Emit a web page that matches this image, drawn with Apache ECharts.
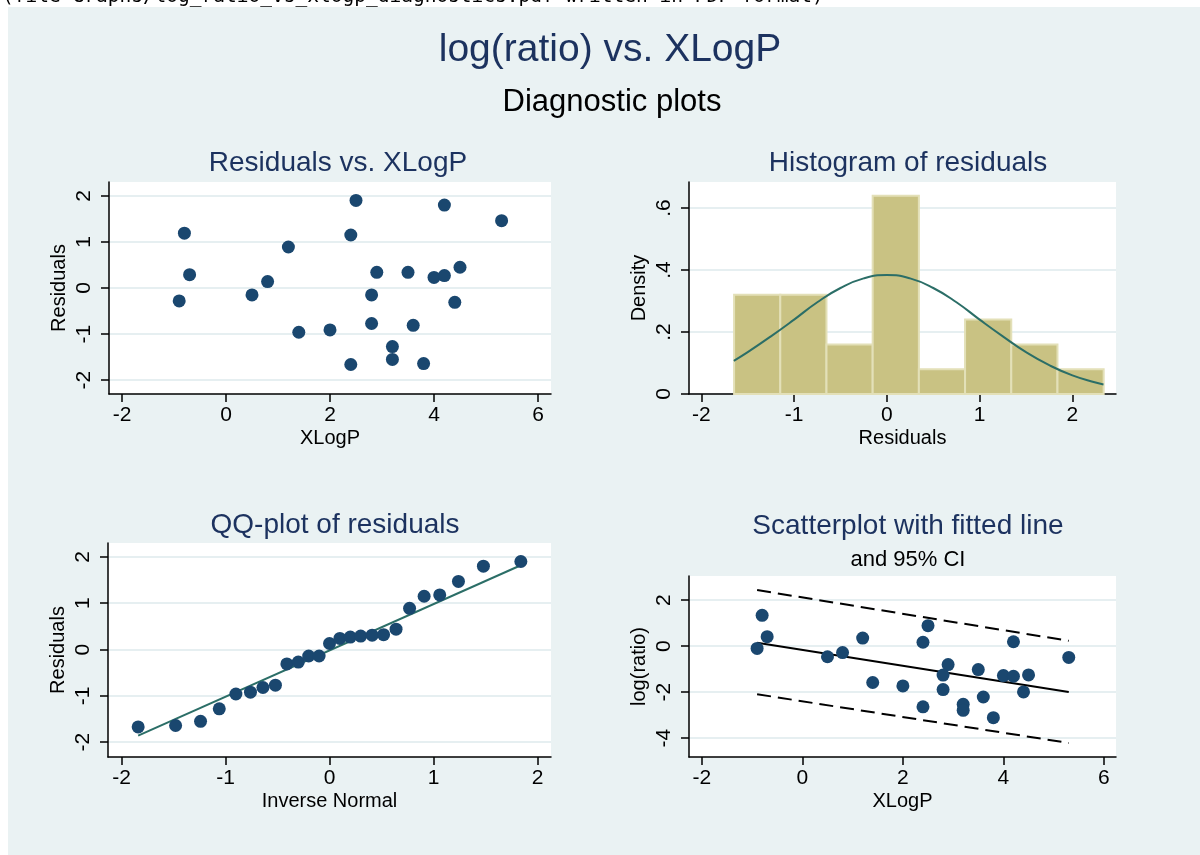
<!DOCTYPE html>
<html>
<head>
<meta charset="utf-8">
<script src="https://cdn.jsdelivr.net/npm/echarts@6/dist/echarts.min.js"></script>
<style>
html,body{margin:0;padding:0;background:#fff;}
#chart{width:1200px;height:855px;}
</style>
</head>
<body>
<div id="chart"></div>
<script>
// ---- Data ----
const xlogp = [-0.8,-0.7,-0.9,0.5,0.8,1.2,1.4,2.0,2.4,2.5,2.4,2.9,2.8,2.8,3.2,3.2,3.5,3.6,3.8,4.0,4.2,4.2,4.5,4.4,5.3];
const residuals = [1.19,0.29,-0.28,-0.15,0.14,0.89,-0.96,-0.91,1.15,1.90,-1.66,0.34,-0.15,-0.77,-1.27,-1.55,0.34,-0.81,-1.64,0.23,0.27,1.80,0.45,-0.31,1.46];
const logRatio = [1.34,0.41,-0.10,-0.46,-0.28,0.35,-1.58,-1.73,0.17,0.89,-2.64,-0.80,-1.26,-1.89,-2.53,-2.79,-1.02,-2.21,-3.11,-1.28,-1.31,0.19,-1.25,-1.99,-0.49];

const histEdgesLo = [-1.647,-1.149,-0.651,-0.153,0.345,0.843,1.341,1.839];
const histEdgesHi = [-1.149,-0.651,-0.153,0.345,0.843,1.341,1.839,2.337];
const histDensity = [0.32,0.32,0.16,0.64,0.08,0.24,0.16,0.08];

const normX = [-1.65,-1.5,-1.25,-1.0,-0.75,-0.5,-0.25,0,0.25,0.5,0.75,1.0,1.25,1.5,1.75,2.0,2.25,2.335];
const normY = [0.107,0.135,0.186,0.240,0.296,0.342,0.373,0.384,0.373,0.342,0.296,0.240,0.186,0.135,0.093,0.060,0.037,0.031];

const qqX = [-1.84,-1.48,-1.24,-1.06,-0.90,-0.76,-0.64,-0.52,-0.41,-0.30,-0.20,-0.10,0,0.10,0.20,0.30,0.41,0.52,0.64,0.77,0.91,1.06,1.24,1.48,1.84];
const qqY = [-1.67,-1.64,-1.55,-1.28,-0.96,-0.92,-0.82,-0.77,-0.31,-0.27,-0.14,-0.14,0.13,0.24,0.27,0.29,0.31,0.32,0.44,0.89,1.15,1.18,1.47,1.80,1.90];
const qqLineX = [-1.84,1.84];
const qqLineY = [-1.86,1.82];

const fitX = [-0.9,5.3];
const fitY = [0.145,-1.99];
const ciUpper = [2.44,0.23];
const ciLower = [-2.09,-4.21];

const ticksXLogP = [-2,0,2,4,6];
const ticksResid = [-2,-1,0,1,2];
const ticksHistX = [-2,-1,0,1,2];
const ticksDensity = [0,0.2,0.4,0.6];
const ticksQQX = [-2,-1,0,1,2];
const ticksLogRatio = [-4,-2,0,2];

// ---- Styles ----
const FONT = 'Liberation Sans, Arial, sans-serif';
const NAVY = '#1A476F';
const TITLE = '#1C325F';
const TEAL = '#2B6E67';
const GRIDC = '#E6EFF1';

function zip(a,b){return a.map((v,i)=>[v,b[i]]);}
function stataFmt(v){ if (v===0) return '0'; let s=String(v); return s.replace(/^0\./,'.').replace(/^-0\./,'-.'); }

function xAx(grid, min, max, ticks, name){
  return {
    type:'value', gridIndex:grid, min:min, max:max,
    name:name, nameLocation:'middle', nameGap:34,
    nameTextStyle:{fontSize:20, color:'#000', fontFamily:FONT},
    axisLine:{show:true, onZero:false, lineStyle:{color:'#000', width:1.5}},
    axisTick:{show:true, length:8, customValues:ticks, lineStyle:{color:'#000', width:1.5}},
    axisLabel:{customValues:ticks, fontSize:21, color:'#000', fontFamily:FONT, margin:11, formatter:stataFmt},
    splitLine:{show:false}
  };
}
function yAx(grid, min, max, ticks, name, gap){
  return {
    type:'value', gridIndex:grid, min:min, max:max,
    name:name, nameLocation:'middle', nameGap:gap||40, nameRotate:90,
    nameTextStyle:{fontSize:20, color:'#000', fontFamily:FONT},
    axisLine:{show:true, onZero:false, lineStyle:{color:'#000', width:1.5}},
    axisTick:{show:true, length:8, customValues:ticks, lineStyle:{color:'#000', width:1.5}},
    axisLabel:{customValues:ticks, rotate:90, fontSize:21, color:'#000', fontFamily:FONT, margin:14, formatter:stataFmt},
    splitLine:{show:true, lineStyle:{color:GRIDC, width:2}}
  };
}

const chart = echarts.init(document.getElementById('chart'), null, {renderer:'canvas'});
const gridBase = {show:true, backgroundColor:'#ffffff', borderWidth:0, containLabel:false};
const dot = {symbolSize:13, itemStyle:{color:NAVY, opacity:1}};

const option = {
  animation:false,
  backgroundColor:'#EAF2F3',
  title:[
    {text:'log(ratio) vs. XLogP', left:605, top:26, textAlign:'center', textStyle:{fontSize:39, fontWeight:'normal', color:TITLE, fontFamily:FONT}},
    {text:'Diagnostic plots', left:607, top:82, textAlign:'center', textStyle:{fontSize:31, fontWeight:'normal', color:'#000', fontFamily:FONT}},
    {text:'Residuals vs. XLogP', left:333, top:144, textAlign:'center', textStyle:{fontSize:28, fontWeight:'normal', color:TITLE, fontFamily:FONT}},
    {text:'Histogram of residuals', left:903, top:144, textAlign:'center', textStyle:{fontSize:28, fontWeight:'normal', color:TITLE, fontFamily:FONT}},
    {text:'QQ-plot of residuals', left:330, top:506, textAlign:'center', textStyle:{fontSize:28, fontWeight:'normal', color:TITLE, fontFamily:FONT}},
    {text:'Scatterplot with fitted line', left:903, top:507, textAlign:'center', textStyle:{fontSize:28, fontWeight:'normal', color:TITLE, fontFamily:FONT}},
    {text:'and 95% CI', left:903, top:544, textAlign:'center', textStyle:{fontSize:22, fontWeight:'normal', color:'#000', fontFamily:FONT}}
  ],
  graphic:[
    {type:'rect', left:0, top:0, shape:{width:1200, height:7}, style:{fill:'#ffffff'}, z:100},
    {type:'rect', left:0, top:0, shape:{width:8, height:855}, style:{fill:'#ffffff'}, z:100},
    {type:'text', x:2, y:7, z:101, style:{text:'(file Graphs/log_ratio_vs_xlogp_diagnostics.pdf written in PDF format)', font:'19.5px "DejaVu Sans Mono", monospace', fill:'#000', verticalAlign:'bottom', align:'left'}}
  ],
  grid:[
    Object.assign({left:109, top:182, width:442, height:212}, gridBase),
    Object.assign({left:689, top:182, width:427, height:212}, gridBase),
    Object.assign({left:108, top:543, width:443, height:214}, gridBase),
    Object.assign({left:689, top:576, width:427, height:181}, gridBase)
  ],
  xAxis:[
    xAx(0, -2.25, 6.25, ticksXLogP, 'XLogP'),
    xAx(1, -2.133, 2.47, ticksHistX, 'Residuals'),
    xAx(2, -2.13, 2.13, ticksQQX, 'Inverse Normal'),
    xAx(3, -2.255, 6.24, ticksXLogP, 'XLogP')
  ],
  yAxis:[
    yAx(0, -2.3, 2.3, ticksResid, 'Residuals', 40),
    yAx(1, 0, 0.684, ticksDensity, 'Density', 40),
    yAx(2, -2.32, 2.30, ticksResid, 'Residuals', 40),
    yAx(3, -4.82, 3.05, ticksLogRatio, 'log(ratio)', 40)
  ],
  series:[
    Object.assign({type:'scatter', xAxisIndex:0, yAxisIndex:0, data:zip(xlogp, residuals)}, dot),
    {type:'custom', xAxisIndex:1, yAxisIndex:1,
     data:histEdgesLo.map((lo,i)=>[lo, histEdgesHi[i], histDensity[i]]),
     encode:{x:[0,1], y:2},
     renderItem:function(params, api){
       const p0 = api.coord([api.value(0), api.value(2)]);
       const p1 = api.coord([api.value(1), 0]);
       return {type:'rect', shape:{x:p0[0], y:p0[1], width:p1[0]-p0[0], height:p1[1]-p0[1]},
               style:{fill:'#C9C283', stroke:'#E3E0B8', lineWidth:2}};
     }},
    {type:'line', xAxisIndex:1, yAxisIndex:1, data:zip(normX, normY), smooth:true, showSymbol:false, lineStyle:{color:TEAL, width:2}, z:5},
    {type:'line', xAxisIndex:2, yAxisIndex:2, data:zip(qqLineX, qqLineY), showSymbol:false, lineStyle:{color:TEAL, width:2}},
    Object.assign({type:'scatter', xAxisIndex:2, yAxisIndex:2, data:zip(qqX, qqY), z:3}, dot),
    Object.assign({type:'scatter', xAxisIndex:3, yAxisIndex:3, data:zip(xlogp, logRatio), z:3}, dot),
    {type:'line', xAxisIndex:3, yAxisIndex:3, data:zip(fitX, fitY), showSymbol:false, lineStyle:{color:'#000', width:2}},
    {type:'line', xAxisIndex:3, yAxisIndex:3, data:zip(fitX, ciUpper), showSymbol:false, lineStyle:{color:'#000', width:2, type:[14,7]}},
    {type:'line', xAxisIndex:3, yAxisIndex:3, data:zip(fitX, ciLower), showSymbol:false, lineStyle:{color:'#000', width:2, type:[14,7]}}
  ]
};
chart.setOption(option);
</script>
</body>
</html>
